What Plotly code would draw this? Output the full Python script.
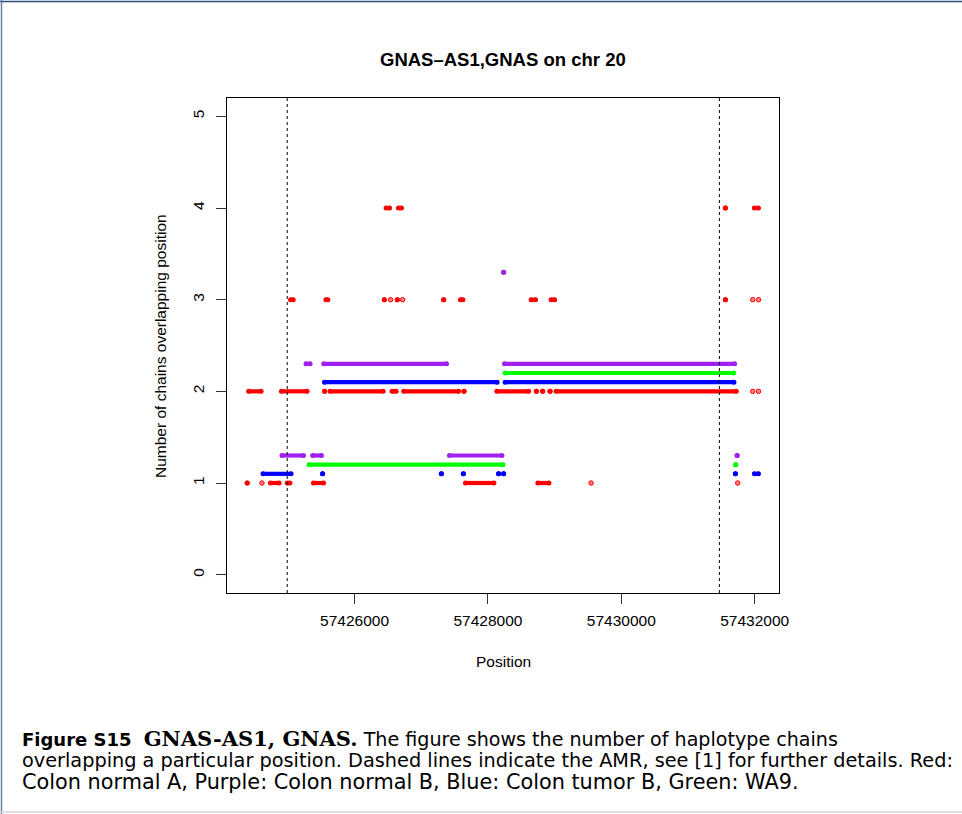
import plotly.graph_objects as go

# Haplotype chain coverage per sample, as runs of consecutive positions.
# Each run: (level, start, end); a single position has start == end.
red_level = [2, 2, 2, 2, 2, 2, 2, 2, 2, 2, 2, 2,
             1, 1, 1, 1, 1, 1,
             3, 3, 3, 3, 3, 3, 3, 3, 3,
             4, 4, 4, 4]
red_start = [57424412, 57424903, 57425550, 57425632, 57426562, 57426737, 57427641, 57428133, 57428726, 57428820, 57428931, 57429022,
             57424390, 57424738, 57424990, 57425383, 57427663, 57428748,
             57425040, 57425570, 57426446, 57426641, 57427336, 57427588, 57428647, 57428947, 57431560,
             57426472, 57426658, 57431560, 57431995]
red_end = [57424598, 57425288, 57425550, 57426428, 57426623, 57427559, 57427641, 57428609, 57428726, 57428820, 57428931, 57431723,
           57424390, 57424868, 57425030, 57425534, 57428089, 57428914,
           57425080, 57425600, 57426446, 57426641, 57427336, 57427624, 57428714, 57428999, 57431560,
           57426524, 57426704, 57431560, 57432056]

# Isolated single-read positions (drawn lighter)
red_single_pos = [57431970, 57432057, 57424611, 57429546, 57431745, 57426540, 57426720, 57431970, 57432057]
red_single_level = [2, 2, 1, 1, 1, 3, 3, 3, 3]

purple_level = [3.3, 2.3, 2.3, 2.3, 1.3, 1.3, 1.3, 1.3]
purple_start = [57428235, 57425272, 57425537, 57428248, 57424912, 57425372, 57427423, 57431736]
purple_end = [57428235, 57425333, 57427379, 57431699, 57425234, 57425504, 57428209, 57431736]

green_level = [2.2, 1.2, 1.2]
green_start = [57428257, 57425317, 57431715]
green_end = [57431684, 57428224, 57431715]

blue_level = [2.1, 2.1, 1.1, 1.1, 1.1, 1.1, 1.1, 1.1, 1.1, 1.1]
blue_start = [57425548, 57428257, 57424627, 57425520, 57427301, 57427631, 57428160, 57428235, 57431710, 57431995]
blue_end = [57428138, 57431688, 57425048, 57425520, 57427301, 57427631, 57428160, 57428235, 57431710, 57432056]

# Boundaries of the AMR
amr_bounds = [57424990, 57431470]

x_ticks = [57426000, 57428000, 57430000, 57432000]
y_ticks = [0, 1, 2, 3, 4, 5]

W, H = 962, 814
L, R, T, B = 227, 183, 98, 221
PW, PH = W - L - R, H - T - B


def px_x(px):
    return (px - L) / PW


def px_y(py):
    return (H - B - py) / PH


def runs_trace(levels, starts, ends, color):
    xs, ys = [], []
    for lv, s, e in zip(levels, starts, ends):
        xs += [s, e, None]
        ys += [lv, lv, None]
    return go.Scatter(x=xs, y=ys, mode="lines+markers",
                      line=dict(color=color, width=4.2),
                      marker=dict(color=color, size=5),
                      connectgaps=False, hoverinfo="skip", showlegend=False)


fig = go.Figure()
fig.add_trace(runs_trace(red_level, red_start, red_end, "#FF0000"))
fig.add_trace(go.Scatter(x=red_single_pos, y=red_single_level, mode="markers",
                         marker=dict(color="#FF8080", size=4.5,
                                     line=dict(color="#FF0000", width=1)),
                         hoverinfo="skip", showlegend=False))
fig.add_trace(runs_trace(purple_level, purple_start, purple_end, "#A020F0"))
fig.add_trace(runs_trace(blue_level, blue_start, blue_end, "#0000FF"))
fig.add_trace(runs_trace(green_level, green_start, green_end, "#00FF00"))

shapes = []
for b in amr_bounds:
    shapes.append(dict(type="line", xref="x", yref="paper", x0=b, x1=b, y0=0, y1=1,
                       line=dict(color="black", width=1, dash="3px,3px")))
# page frame
shapes.append(dict(type="line", xref="paper", yref="paper",
                   x0=px_x(0), x1=px_x(W), y0=px_y(1.5), y1=px_y(1.5),
                   line=dict(color="#2b4a7a", width=1.5)))
shapes.append(dict(type="line", xref="paper", yref="paper",
                   x0=px_x(1.5), x1=px_x(1.5), y0=px_y(0), y1=px_y(H),
                   line=dict(color="#6a7f9c", width=1.5)))
shapes.append(dict(type="line", xref="paper", yref="paper",
                   x0=px_x(0), x1=px_x(W), y0=px_y(812), y1=px_y(812),
                   line=dict(color="#d4d4d4", width=1.5)))

axis_font = dict(family="Liberation Sans, Arial, sans-serif", size=15.5, color="black")

annotations = [
    dict(text="<b>GNAS\u2013AS1,GNAS on chr 20</b>", x=px_x(503), y=px_y(60),
         xref="paper", yref="paper", showarrow=False, xanchor="center", yanchor="middle",
         font=dict(family="Liberation Sans, Arial, sans-serif", size=18.5, color="black")),
    dict(text="Position", x=px_x(503), y=px_y(661), xref="paper", yref="paper",
         showarrow=False, xanchor="center", yanchor="middle", font=axis_font),
    dict(text="Number of chains overlapping position", x=px_x(160), y=px_y(346),
         xref="paper", yref="paper", showarrow=False, xanchor="center", yanchor="middle",
         textangle=-90, font=axis_font),
]

caption_lines = [
    "<span style='font-size:18px'><b>Figure S15</b></span>  "
    "<span style='font-family:DejaVu Serif, serif;font-size:21px'><b>GNAS-AS1, GNAS.</b></span>"
    " The figure shows the number of haplotype chains",
    "overlapping a particular position. Dashed lines indicate the AMR, see [1] for further details. Red:",
    "Colon normal A, Purple: Colon normal B, Blue: Colon tumor B, Green: WA9.",
]
caption_sizes = [19.1, 19.3, 20.8]
for i, line in enumerate(caption_lines):
    annotations.append(dict(text=line, x=px_x(20), y=px_y(738 + 22 * i), xref="paper", yref="paper",
                            showarrow=False, xanchor="left", yanchor="middle", align="left",
                            font=dict(family="DejaVu Sans, sans-serif", size=caption_sizes[i],
                                      color="black")))

fig.update_layout(
    width=W, height=H,
    margin=dict(l=L, r=R, t=T, b=B, pad=0),
    paper_bgcolor="white", plot_bgcolor="white",
    shapes=shapes, annotations=annotations,
    xaxis=dict(range=[57424087, 57432364], tickvals=x_ticks,
               ticktext=[str(v) for v in x_ticks], ticks="outside", ticklen=10,
               tickwidth=1, tickcolor="#333", showline=True, mirror=True,
               linecolor="black", linewidth=1, showgrid=False, zeroline=False,
               tickfont=axis_font, ticklabelstandoff=3),
    yaxis=dict(range=[-0.2, 5.2], tickvals=y_ticks, ticktext=[str(v) for v in y_ticks],
               ticks="outside", ticklen=10, tickwidth=1, tickcolor="#333",
               showline=True, mirror=True, linecolor="black", linewidth=1,
               showgrid=False, zeroline=False, tickangle=-90, tickfont=axis_font,
               ticklabelstandoff=6),
)

fig.write_html("out.html")
